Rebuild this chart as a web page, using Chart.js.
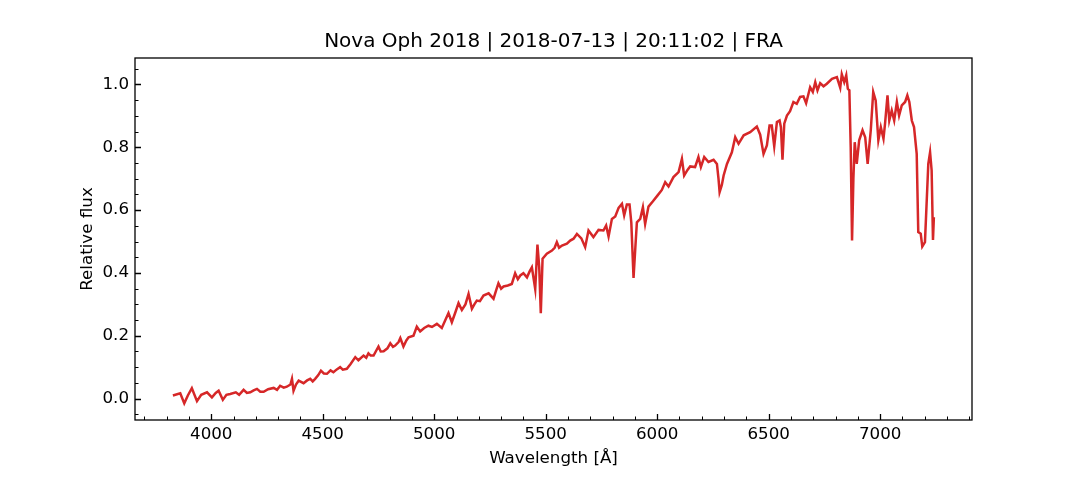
<!DOCTYPE html>
<html>
<head>
<meta charset="utf-8">
<script src="https://cdn.jsdelivr.net/npm/chart.js@4.4.1/dist/chart.umd.min.js"></script>
<style>
  html, body { margin: 0; padding: 0; background: #fff; }
  #wrap { width: 1080px; height: 480px; }
</style>
</head>
<body>
<div id="wrap"><canvas id="chart"></canvas></div>
<script>
// spectrum: wavelength (Å) and relative flux
const wavelengths = [
  3828, 3861, 3879, 3895, 3913, 3936, 3955, 3981, 4003, 4020, 4033, 4052, 4068, 4085, 4110, 4125,
  4145, 4160, 4175, 4190, 4205, 4220, 4235, 4255, 4280, 4295, 4309, 4325, 4339, 4355, 4362, 4369,
  4380, 4392, 4414, 4430, 4444, 4455, 4466, 4480, 4492, 4505, 4519, 4535, 4548, 4563, 4578, 4590,
  4608, 4625, 4646, 4660, 4683, 4695, 4705, 4715, 4728, 4750, 4760, 4773, 4790, 4803, 4815, 4825,
  4840, 4848, 4862, 4875, 4885, 4907, 4922, 4937, 4955, 4974, 4990, 5012, 5034, 5050, 5064, 5079,
  5095, 5109, 5124, 5140, 5154, 5169, 5180, 5191, 5205, 5221, 5244, 5266, 5278, 5288, 5300, 5311,
  5330, 5348, 5363, 5375, 5386, 5400, 5416, 5428, 5438, 5453, 5463, 5471, 5478, 5486, 5505, 5528,
  5540, 5550, 5560, 5573, 5595, 5610, 5625, 5640, 5660, 5677, 5692, 5714, 5737, 5759, 5771, 5782,
  5797, 5812, 5827, 5842, 5852, 5864, 5876, 5884, 5894, 5902, 5909, 5924, 5936, 5946, 5961, 5981,
  6001, 6021, 6036, 6051, 6073, 6096, 6111, 6121, 6136, 6148, 6170, 6185, 6196, 6211, 6230, 6253,
  6268, 6275, 6280, 6290, 6298, 6313, 6335, 6350, 6365, 6388, 6417, 6447, 6462, 6477, 6492, 6504,
  6514, 6525, 6537, 6549, 6555, 6562, 6570, 6582, 6596, 6611, 6626, 6641, 6656, 6668, 6686, 6698,
  6709, 6719, 6731, 6746, 6761, 6784, 6806, 6821, 6828, 6839, 6848, 6855, 6862, 6868, 6874, 6880,
  6886, 6895, 6906, 6921, 6933, 6944, 6958, 6969, 6980, 6992, 7003, 7015, 7022, 7033, 7041, 7052,
  7063, 7075, 7085, 7097, 7112, 7122, 7131, 7142, 7152, 7164, 7171, 7182, 7189, 7201, 7209, 7216,
  7224, 7231, 7237, 7241
];
const flux = [
  0.010, 0.017, -0.015, 0.010, 0.033, -0.008, 0.012, 0.020, 0.004, 0.018, 0.025, -0.004, 0.012, 0.015, 0.020, 0.012,
  0.028, 0.018, 0.020, 0.026, 0.031, 0.022, 0.022, 0.030, 0.034, 0.028, 0.041, 0.035, 0.038, 0.045, 0.063, 0.025,
  0.045, 0.057, 0.049, 0.058, 0.063, 0.055, 0.063, 0.075, 0.089, 0.080, 0.079, 0.090, 0.084, 0.093, 0.100, 0.092,
  0.095, 0.110, 0.132, 0.122, 0.137, 0.130, 0.144, 0.137, 0.137, 0.166, 0.150, 0.151, 0.160, 0.176, 0.165, 0.169,
  0.180, 0.193, 0.166, 0.185, 0.195, 0.200, 0.229, 0.214, 0.225, 0.232, 0.228, 0.238, 0.225, 0.250, 0.272, 0.243,
  0.275, 0.304, 0.282, 0.300, 0.333, 0.286, 0.300, 0.312, 0.310, 0.328, 0.335, 0.318, 0.345, 0.367, 0.350, 0.357,
  0.360, 0.365, 0.399, 0.380, 0.392, 0.399, 0.386, 0.405, 0.418, 0.349, 0.490, 0.418, 0.272, 0.445, 0.461, 0.471,
  0.480, 0.498, 0.480, 0.487, 0.493, 0.503, 0.509, 0.524, 0.510, 0.482, 0.535, 0.514, 0.537, 0.535, 0.551, 0.516,
  0.572, 0.580, 0.607, 0.620, 0.583, 0.618, 0.618, 0.560, 0.384, 0.480, 0.561, 0.572, 0.609, 0.556, 0.611, 0.628,
  0.646, 0.664, 0.689, 0.675, 0.705, 0.721, 0.763, 0.710, 0.728, 0.739, 0.737, 0.769, 0.737, 0.769, 0.753, 0.760,
  0.747, 0.700, 0.657, 0.680, 0.710, 0.747, 0.784, 0.832, 0.811, 0.838, 0.848, 0.866, 0.840, 0.779, 0.806, 0.869,
  0.869, 0.803, 0.880, 0.885, 0.864, 0.760, 0.875, 0.901, 0.915, 0.944, 0.938, 0.960, 0.962, 0.940, 0.991, 0.976,
  1.007, 0.981, 1.004, 0.994, 1.002, 1.018, 1.023, 0.989, 1.032, 1.007, 1.029, 0.986, 0.981, 0.800, 0.503, 0.700,
  0.816, 0.747, 0.822, 0.854, 0.832, 0.747, 0.854, 0.976, 0.949, 0.822, 0.864, 0.827, 0.875, 0.965, 0.885, 0.917,
  0.885, 0.944, 0.901, 0.933, 0.944, 0.965, 0.944, 0.885, 0.864, 0.779, 0.530, 0.525, 0.484, 0.498, 0.631, 0.747,
  0.784, 0.726, 0.505, 0.577
];

const xTicks = [4000, 4500, 5000, 5500, 6000, 6500, 7000];
const yTicks = [0.0, 0.2, 0.4, 0.6, 0.8, 1.0];
const xMinor = [];
for (let v = 3700; v <= 7400; v += 100) xMinor.push(v);
const yMinor = [];
for (let v = -0.05; v <= 1.06; v += 0.05) yMinor.push(Math.round(v * 100) / 100);

const FONT = 'DejaVu Sans';

// matplotlib style frame with inward ticks
const frame = {
  id: 'frame',
  afterDraw(chart) {
    const ctx = chart.ctx;
    const a = chart.chartArea;
    const xs = chart.scales.x, ys = chart.scales.y;
    ctx.save();
    ctx.strokeStyle = '#000';
    ctx.lineWidth = 1.3;
    ctx.beginPath();
    xTicks.forEach(v => { const p = Math.round(xs.getPixelForValue(v)) + 0.5; ctx.moveTo(p, a.bottom); ctx.lineTo(p, a.bottom - 6); });
    yTicks.forEach(v => { const p = Math.round(ys.getPixelForValue(v)) + 0.5; ctx.moveTo(a.left, p); ctx.lineTo(a.left + 6, p); });
    ctx.stroke();
    ctx.lineWidth = 1;
    ctx.beginPath();
    xMinor.forEach(v => { if (v % 500 === 0) return; const p = Math.round(xs.getPixelForValue(v)) + 0.5; ctx.moveTo(p, a.bottom); ctx.lineTo(p, a.bottom - 3.5); });
    yMinor.forEach(v => { if (Math.abs(v * 5 - Math.round(v * 5)) < 1e-6) return; const p = Math.round(ys.getPixelForValue(v)) + 0.5; ctx.moveTo(a.left, p); ctx.lineTo(a.left + 3.5, p); });
    ctx.stroke();
    ctx.lineWidth = 1.3;
    ctx.strokeRect(a.left, a.top, a.right - a.left, a.bottom - a.top);
    ctx.restore();
  }
};

const ctx = document.getElementById('chart').getContext('2d');
const myChart = new Chart(ctx, {
  type: 'line',
  data: {
    datasets: [{
      data: wavelengths.map((w, i) => ({ x: w, y: flux[i] })),
      borderColor: '#d62728',
      borderWidth: 2.5,
      pointRadius: 0,
      tension: 0,
      fill: false
    }]
  },
  options: {
    responsive: true,
    maintainAspectRatio: false,
    animation: false,
    layout: { padding: { left: 78, right: 108, top: 0, bottom: 11 } },
    plugins: {
      legend: { display: false },
      tooltip: { enabled: false },
      title: {
        display: true,
        fullSize: false,
        text: 'Nova Oph 2018 | 2018-07-13 | 20:11:02 | FRA',
        color: '#000',
        font: { family: FONT, size: 20, weight: 'normal' },
        padding: { top: 30, bottom: 4 }
      }
    },
    scales: {
      x: {
        type: 'linear',
        min: 3658,
        max: 7412,
        afterBuildTicks: s => { s.ticks = xTicks.map(v => ({ value: v })); },
        afterFit: s => { s.height = 49; },
        grid: { display: false, drawTicks: false },
        border: { display: false },
        ticks: { color: '#000', font: { family: FONT, size: 16.7 }, padding: 5, maxRotation: 0, callback: v => String(v) },
        title: { display: true, text: 'Wavelength [Å]', color: '#000', font: { family: FONT, size: 16.7 }, padding: 0 }
      },
      y: {
        type: 'linear',
        min: -0.068,
        max: 1.084,
        afterBuildTicks: s => { s.ticks = yTicks.map(v => ({ value: v })); },
        afterFit: s => { s.width = 57; },
        grid: { display: false, drawTicks: false },
        border: { display: false },
        ticks: { color: '#000', font: { family: FONT, size: 16.7 }, padding: 6, callback: v => v.toFixed(1) },
        title: { display: true, text: 'Relative flux', color: '#000', font: { family: FONT, size: 16.7 }, padding: 0 }
      }
    }
  },
  plugins: [frame]
});
</script>
</body>
</html>
